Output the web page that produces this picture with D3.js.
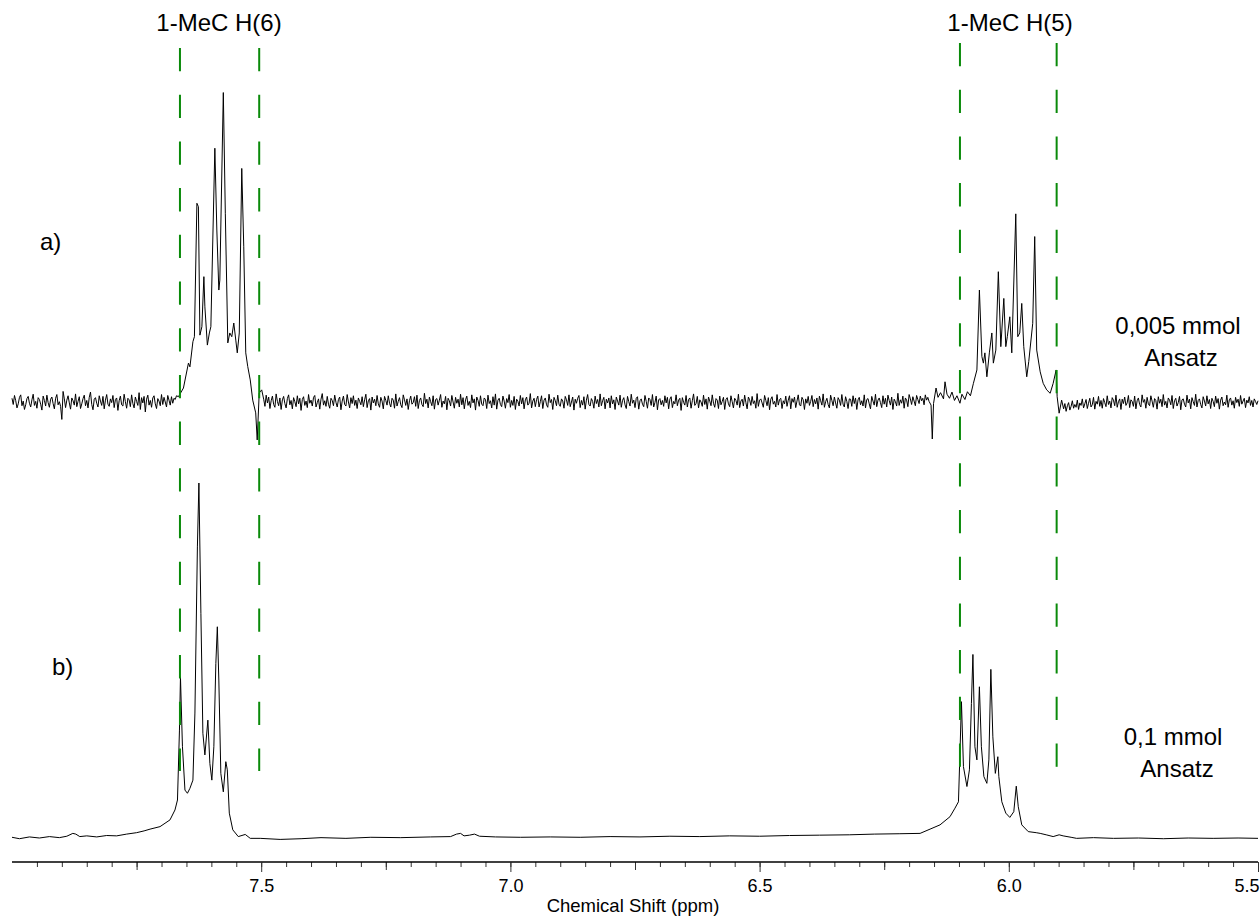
<!DOCTYPE html>
<html>
<head>
<meta charset="utf-8">
<script src="https://cdn.jsdelivr.net/npm/d3@7"></script>
<style>
  body { margin: 0; background: #fff; }
  text { font-family: "Liberation Sans", Arial, sans-serif; fill: #000; }
</style>
</head>
<body>
<div id="chart"></div>
<script>
const width = 1260, height = 916;

// x axis ticks (ppm)
const majorTicks = [7.5, 7.0, 6.5, 6.0, 5.5];
const mediumTicks = [7.75, 7.25, 6.75, 6.25, 5.75];

// green marker lines (ppm) for the two multiplets
const markH6 = [7.663, 7.504];
const markH5 = [6.098, 5.904];

// trace a) : baseline noise, sampled every 0.0025 ppm
const noiseStep = 0.0025;
const noiseA1 = [ // 8.000 .. 7.670
  1.2,-0.8,2.1,0.4,-1.9,-0.6,1.5,2.3,-1.2,0.3,-2.4,-0.9,1.1,1.8,-0.4,-1.6,0.7,2.5,-1.1,0.2,
  -2.0,1.4,0.8,-0.7,-2.6,1.9,0.5,-1.3,2.2,-0.2,-1.7,0.9,1.6,-0.5,-2.2,1.2,2.4,-0.9,0.1,-1.4,
  -5.6,3.4,1.0,-1.8,0.6,2.0,-0.3,-2.3,1.3,0.4,-1.0,2.6,-1.5,0.2,1.7,-2.1,-0.6,1.1,2.2,-1.2,
  0.5,-1.9,1.5,3.2,-0.8,-2.5,0.9,1.4,-0.4,-1.6,2.0,0.3,-1.1,1.8,-2.2,0.6,2.4,-0.7,-1.4,1.0,
  -0.2,2.1,-1.8,0.8,1.3,-2.7,0.4,1.9,-0.9,-1.3,2.5,0.1,-2.0,1.2,0.7,-1.5,2.3,-0.5,-1.9,1.6,
  0.2,-1.1,3.0,-2.4,1.4,-0.3,1.8,-3.2,0.9,2.2,-1.0,0.5,-1.7,1.3,2.0,-0.6,-2.1,1.1,0.3,-1.2,
  2.4,-0.8,1.5,0.0,-1.6,2.1,0.6,-1.0,1.7,-0.4,1.2,0.8,2.0
];
const noiseA2 = [ // 7.495 .. 6.160
  0.9,-1.4,2.2,-0.3,1.6,-2.1,0.4,1.9,-0.8,-1.7,2.6,0.2,-1.2,1.3,-2.4,0.7,1.8,-0.5,-1.9,1.1,
  2.3,-0.9,0.5,-2.2,1.4,0.1,-1.5,2.0,-0.6,1.2,-2.7,0.8,1.7,-1.1,0.3,-1.8,2.4,-0.4,0.6,-1.3,
  1.5,2.1,-1.6,-0.2,1.0,-2.3,0.9,2.7,-1.0,0.4,-1.4,1.8,-0.7,-2.0,1.2,0.5,-1.2,2.2,-0.1,-1.6,
  0.8,1.6,-2.5,0.3,1.9,-0.8,-1.3,2.4,0.0,-1.9,1.4,-0.5,2.0,-1.1,0.6,-2.1,1.3,0.2,-0.9,1.7,
  -1.5,0.7,2.5,-1.8,0.4,1.1,-2.6,1.6,-0.3,0.9,-1.2,2.1,-0.6,-1.7,1.5,0.3,-2.2,1.8,0.5,-1.0,
  2.0,-0.4,-1.6,1.2,0.6,-2.0,2.6,-1.3,0.2,1.4,-0.9,-1.8,2.3,0.7,-1.1,1.0,-2.4,0.4,1.9,-0.7,
  -0.2,1.7,-1.4,2.2,-2.1,0.5,1.3,-0.8,-1.5,2.8,-0.5,0.9,-1.9,1.6,0.1,-1.2,2.0,-2.3,0.8,1.1,
  -1.0,0.6,2.4,-1.7,0.3,-0.6,1.8,-2.5,1.2,0.4,-1.3,2.1,0.0,-2.0,1.5,-0.4,0.9,-1.6,2.5,-0.9,
  1.4,-2.2,0.7,1.9,-1.1,0.2,-1.8,2.3,-0.3,1.0,-2.6,1.6,0.5,-1.4,2.0,-0.7,-1.2,1.3,0.8,-2.1,
  2.2,-0.5,0.4,-1.9,1.7,-1.0,2.6,-2.3,0.6,1.2,-0.8,-1.5,1.9,0.3,-2.0,1.1,-0.2,2.4,-1.7,0.5,
  -1.1,1.8,-2.4,0.9,0.2,-1.3,2.1,-0.6,1.4,-2.2,0.7,1.6,-1.0,-0.4,2.7,-1.9,0.3,1.2,-1.5,0.8,
  1.9,-1.6,0.1,2.0,-2.1,0.6,1.3,-0.9,-1.7,2.5,-0.2,0.8,-2.4,1.5,0.4,-1.2,2.2,-0.7,-1.4,1.0,
  0.3,-2.0,1.8,0.7,-1.1,2.3,-1.5,0.0,1.6,-2.6,0.9,-0.4,1.2,2.1,-1.8,0.5,-1.0,1.7,-2.3,0.6,
  2.4,-0.8,-1.3,1.1,0.2,-2.0,1.9,-0.5,0.8,-1.6,2.6,-1.2,0.4,1.5,-2.2,0.9,-0.3,1.3,-1.9,2.0,
  -0.6,0.7,-2.4,1.6,0.3,-1.0,2.2,-1.7,0.5,1.4,-0.9,-2.1,1.8,0.1,-1.3,2.5,-0.4,0.6,-1.8,1.2,
  1.7,-2.3,0.4,1.0,-0.7,-1.5,2.1,0.2,-2.0,1.3,0.8,-1.1,2.4,-1.6,-0.2,1.9,-2.5,0.7,1.1,-0.9,
  0.5,-1.4,2.0,-0.3,1.5,-2.2,0.9,1.7,-1.8,0.2,-0.6,2.3,-1.2,0.6,1.2,-2.7,1.4,-0.1,-1.0,2.1,
  -1.6,0.8,1.3,-2.0,0.4,2.6,-1.1,-0.5,1.8,-1.9,0.7,0.0,-1.4,2.2,-0.8,1.0,-2.3,1.6,0.3,-1.2,
  2.3,-0.4,-1.7,1.1,0.6,-2.1,1.9,-0.9,0.2,1.5,-2.4,0.8,1.4,-0.6,-1.5,2.0,0.1,-1.9,1.2,0.5,
  -1.0,2.5,-1.8,0.3,0.9,-1.3,2.2,-0.2,-2.2,1.6,0.7,-1.1,1.8,-0.5,0.4,-2.0,2.7,-1.4,0.6,1.0,
  -0.3,-1.7,2.1,0.5,-1.2,1.4,-2.5,0.9,1.7,-0.7,0.2,-1.6,2.4,-1.0,0.8,1.2,-2.1,0.4,-0.6,1.9,
  -1.4,0.6,2.0,-2.2,1.1,-0.1,1.6,-1.8,0.3,2.3,-0.9,-1.3,1.5,0.7,-2.4,1.0,-0.4,1.8,-1.1,0.2,
  2.1,-1.5,0.8,-0.6,1.3,-2.3,1.9,0.4,-1.0,2.6,-1.7,0.1,1.2,-0.8,-1.9,2.2,0.5,-1.2,1.6,-0.3,
  -2.0,1.4,0.6,-1.1,2.4,-0.7,-1.6,1.7,0.2,-2.1,1.0,0.9,-1.4,2.0,-0.5,1.3,-2.4,0.7,1.5,-0.9,
  0.4,-1.3,2.3,-1.9,0.8,1.1,-0.6,-2.2,1.8,0.3,-1.0,2.5,-1.5,0.6,1.3,-0.2,-1.8,2.0,-0.7,1.2,
  -1.6,2.2,0.5,-1.0,1.6,-2.4,0.9,0.1,-1.3,2.8,-1.1,0.7,-0.4,1.9,-2.0,1.3,0.6,-1.5,2.4,1.0,
  -0.8,1.7,0.3,-1.2,2.1,0.8,-0.5,1.9,0.4,1.2,-0.9,2.3,0.6,1.5,0.2
];
const noiseA3 = [ // 5.890 .. 5.500
  -2.2,-0.5,-3.0,-1.2,-0.2,-2.6,-1.4,0.4,-2.0,-0.8,-1.7,0.6,-2.4,-0.3,-1.1,1.0,-1.9,-0.6,0.8,-2.1,
  -0.4,1.2,-1.6,-0.9,1.5,-2.3,0.2,-0.7,1.8,-1.4,0.5,-2.0,1.1,-0.2,-1.5,2.0,-0.8,0.3,-1.9,1.4,
  0.6,-1.2,2.2,-1.7,0.1,1.0,-2.4,0.9,-0.5,1.6,-1.1,-0.3,2.1,-1.8,0.7,0.2,-1.4,1.9,-2.2,0.4,
  1.3,-0.8,-1.6,2.3,-0.1,0.8,-2.0,1.5,-0.6,-1.2,2.0,0.3,-1.7,1.1,0.5,-2.3,1.7,-0.4,0.9,-1.5,
  2.4,-1.0,0.2,-1.9,1.3,0.6,-0.9,2.1,-2.1,0.4,1.2,-1.3,-0.2,1.8,-2.5,0.7,1.0,-0.7,-1.6,2.2,
  -0.3,0.9,-2.2,1.4,0.1,-1.1,2.5,-1.6,0.5,1.0,-0.8,-1.9,1.7,0.3,-1.3,2.0,-0.6,0.8,-2.1,1.2,
  0.2,-1.5,1.9,-0.4,1.1,-2.3,0.6,1.6,-1.2,0.0,-0.9,2.2,-1.7,0.7,1.3,-1.0,0.4,-2.0,1.5,-0.2,
  0.9,-1.4,2.1,-0.7,0.3,1.2,-1.8,0.6,-0.3,1.7,-1.1,0.5,-1.6,1.0,0.2,-0.8,0.4
];

// trace a) : H(6) multiplet [ppm, intensity]
const peaksA_H6 = [
  [7.666, 1.7], [7.656, 4.5], [7.646, 12.5], [7.643, 11.3], [7.637, 19.4], [7.634, 21], [7.629, 63.9],
  [7.626, 62.8], [7.623, 21.5], [7.619, 24.2], [7.615, 40.3], [7.613, 30.6], [7.608, 18.3], [7.604, 22.2],
  [7.601, 24.2], [7.593, 81.6], [7.589, 55.3], [7.585, 36], [7.583, 39.2], [7.576, 99.5], [7.572, 60.7],
  [7.567, 19], [7.563, 22.2], [7.559, 21], [7.555, 25.4], [7.551, 19.9], [7.548, 15.8], [7.544, 22.2],
  [7.539, 75.1], [7.535, 49.9], [7.531, 15.8], [7.527, 11.4], [7.522, 7.1], [7.517, 0.6], [7.511, -3.5],
  [7.508, -12.2], [7.504, 2.9], [7.499, 3.9]
];

// trace a) : H(5) multiplet incl. the dip before it [ppm, intensity]
const peaksA_H5 = [
  [6.156, -1.0], [6.1535, -11.9], [6.151, -0.5], [6.146, 4.5], [6.142, 1.5], [6.137, 3.0], [6.131, 1.0],
  [6.128, 6.5], [6.124, 2.5], [6.119, 1.2], [6.114, 3.2], [6.109, 0.5], [6.104, 2.0], [6.098, -0.4],
  [6.094, 2.5], [6.088, 0.8], [6.083, 3.3], [6.077, 2.0], [6.071, 6], [6.064, 10.3], [6.059, 36],
  [6.054, 14.6], [6.051, 12.5], [6.048, 15.8], [6.044, 8.1], [6.039, 15.8], [6.034, 22.2], [6.031, 12.5],
  [6.026, 16.7], [6.021, 41.9], [6.016, 17.8], [6.010, 33.3], [6.006, 17.8], [6.003, 21], [5.998, 27.4],
  [5.994, 15.8], [5.986, 60.5], [5.982, 21], [5.978, 22.2], [5.974, 31.7], [5.970, 17.8], [5.964, 8.1],
  [5.960, 13], [5.952, 25.3], [5.948, 53.2], [5.944, 16.7], [5.937, 9.7], [5.931, 6], [5.924, 3.9],
  [5.917, 2.8], [5.911, 6], [5.905, 10.3], [5.903, 1.7], [5.899, -3.6], [5.894, 0.6]
];

// trace b) [ppm, intensity]
const traceB = [
  [8.000, 0.2], [7.985, -0.2], [7.965, 0.3], [7.945, 0.0], [7.925, 0.4], [7.905, 0.1], [7.890, 0.5],
  [7.878, 1.3], [7.872, 1.1], [7.864, 0.4], [7.850, 0.6], [7.830, 0.3], [7.810, 0.7], [7.790, 0.6],
  [7.770, 1.1], [7.750, 1.5], [7.735, 2.0], [7.723, 2.5], [7.703, 3.2], [7.683, 5.1], [7.673, 7.9],
  [7.668, 10.7], [7.664, 30.4], [7.662, 45.4], [7.658, 25.7], [7.653, 13.5], [7.648, 12.6], [7.643, 14],
  [7.637, 16.3], [7.633, 35.2], [7.628, 82], [7.625, 100], [7.621, 63.3], [7.617, 29.5], [7.613, 23.4],
  [7.607, 33.2], [7.603, 21], [7.599, 16.3], [7.595, 25.7], [7.591, 49.2], [7.588, 59.5], [7.585, 44.5],
  [7.581, 18.2], [7.576, 13], [7.571, 21.5], [7.568, 19.2], [7.564, 7], [7.557, 2.3], [7.546, 0.4],
  [7.532, 1.0], [7.522, -0.1], [7.502, -0.1], [7.462, -0.4], [7.420, -0.2], [7.380, 0.1], [7.330, -0.1],
  [7.280, 0.2], [7.220, 0.1], [7.160, 0.3], [7.120, 0.4], [7.108, 1.1], [7.100, 1.3], [7.093, 0.6],
  [7.082, 0.8], [7.072, 1.1], [7.062, 0.5], [7.030, 0.3], [6.980, 0.2], [6.920, 0.3], [6.860, 0.2],
  [6.800, 0.4], [6.740, 0.3], [6.680, 0.5], [6.620, 0.4], [6.560, 0.6], [6.500, 0.5], [6.440, 0.7],
  [6.380, 0.8], [6.320, 0.9], [6.270, 1.1], [6.220, 1.2], [6.178, 1.3], [6.158, 2.5], [6.138, 3.7],
  [6.118, 6], [6.108, 8.4], [6.101, 10.2], [6.098, 23.9], [6.095, 38.4], [6.091, 20.1], [6.084, 14.5],
  [6.079, 19.2], [6.075, 37.9], [6.072, 51.7], [6.068, 25.7], [6.064, 22], [6.059, 42.6], [6.055, 25.7],
  [6.050, 17.3], [6.044, 15.4], [6.040, 22], [6.036, 47.5], [6.032, 28.5], [6.027, 18.2], [6.022, 22.9],
  [6.020, 17.3], [6.014, 10.2], [6.006, 7], [5.998, 5.8], [5.990, 7.4], [5.985, 14.6], [5.981, 8.8],
  [5.974, 3.7], [5.961, 1.8], [5.945, 1.5], [5.937, 1.3], [5.925, 0.9], [5.911, 0.4], [5.899, 0.9],
  [5.891, 0.6], [5.875, 0.2], [5.864, -0.1], [5.830, 0.1], [5.790, -0.1], [5.740, 0.0], [5.690, -0.2],
  [5.640, 0.0], [5.590, -0.1], [5.540, 0.0], [5.500, -0.1]
];

const svg = d3.select("#chart").append("svg")
    .attr("width", width)
    .attr("height", height);

const x = d3.scaleLinear().domain([8.0, 5.5]).range([12, 1258]);
const yA = d3.scaleLinear().domain([0, 100]).range([402, 91]);
const yB = d3.scaleLinear().domain([0, 100]).range([838, 483]);

// put the noise values on their ppm grid
function noiseSeg(vals, start) {
    return vals.map((v, i) => [start - i * noiseStep, v]);
}
const traceA = [].concat(
    noiseSeg(noiseA1, 8.0),
    peaksA_H6,
    noiseSeg(noiseA2, 7.495),
    peaksA_H5,
    noiseSeg(noiseA3, 5.890)
);

const lineA = d3.line().x(d => x(d[0])).y(d => yA(d[1]));
const lineB = d3.line().x(d => x(d[0])).y(d => yB(d[1]));

svg.append("path")
    .datum(traceA)
    .attr("d", lineA)
    .attr("fill", "none")
    .attr("stroke", "#000")
    .attr("stroke-width", 1);

svg.append("path")
    .datum(traceB)
    .attr("d", lineB)
    .attr("fill", "none")
    .attr("stroke", "#000")
    .attr("stroke-width", 1);

// green dashed markers
const marks = svg.append("g");
marks.selectAll(".h6")
    .data(markH6)
    .enter().append("line")
    .attr("x1", d => x(d)).attr("x2", d => x(d))
    .attr("y1", 48).attr("y2", 771);
marks.selectAll(".h5")
    .data(markH5)
    .enter().append("line")
    .attr("x1", d => x(d)).attr("x2", d => x(d))
    .attr("y1", 43).attr("y2", 767);
marks.selectAll("line")
    .attr("stroke", "#0a8a0a")
    .attr("stroke-width", 2)
    .attr("stroke-dasharray", "23.3,23.4");

// x axis
const axisY = 862;
const gx = svg.append("g").attr("transform", `translate(0,${axisY})`);
gx.append("g")
    .call(d3.axisBottom(x).tickValues(d3.range(5.5, 8.0, 0.05)).tickSize(5).tickFormat(""))
    .call(g => g.select(".domain").remove());
gx.append("g")
    .call(d3.axisBottom(x).tickValues(mediumTicks).tickSize(8).tickFormat(""))
    .call(g => g.select(".domain").remove());
gx.append("g")
    .call(d3.axisBottom(x).tickValues(majorTicks).tickSize(10).tickSizeOuter(0).tickFormat(d3.format(".1f")))
    .call(g => g.select(".domain").attr("stroke-width", 1.3).attr("d", `M12,0H1258`));
gx.selectAll(".tick line").attr("stroke", "#333");
gx.selectAll(".tick text")
    .attr("dy", "0.92em")
    .style("font-size", "18px")
    .style("font-family", "'Liberation Sans', Arial, sans-serif");
// last label sits flush with the right edge
gx.selectAll(".tick text").filter(d => d === 5.5)
    .attr("text-anchor", "end")
    .attr("x", 1);

svg.append("text")
    .attr("transform", `translate(633, 912)`)
    .style("text-anchor", "middle")
    .style("font-size", "18.5px")
    .text("Chemical Shift (ppm)");

// labels
const labelSize = "24px";
function label(t, px, py, anchor) {
    svg.append("text")
        .attr("x", px).attr("y", py)
        .style("text-anchor", anchor)
        .style("font-size", labelSize)
        .text(t);
}
label("1-MeC H(6)", 219, 31, "middle");
label("1-MeC H(5)", 1010, 31, "middle");
label("a)", 40, 250, "start");
label("b)", 52, 675, "start");
label("0,005 mmol", 1178, 334, "middle");
label("Ansatz", 1181, 366, "middle");
label("0,1 mmol", 1173, 745, "middle");
label("Ansatz", 1177, 777, "middle");
</script>
</body>
</html>
